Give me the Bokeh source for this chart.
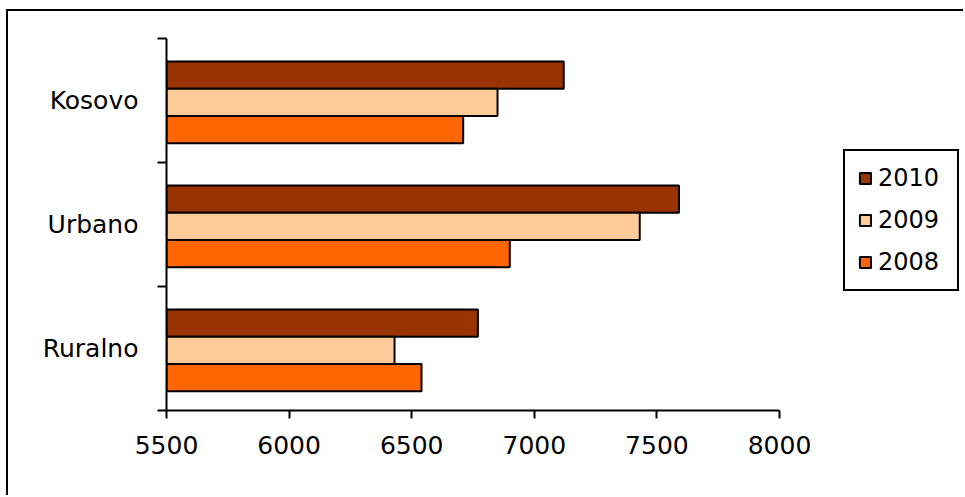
from bokeh.plotting import figure
from bokeh.models import ColumnDataSource, Range1d, FixedTicker, Legend, LegendItem
from bokeh.transform import dodge
from bokeh.embed import file_html
from bokeh.resources import INLINE

categories = ["Kosovo", "Urbano", "Ruralno"]
years = ["2010", "2009", "2008"]
v2010 = [7120, 7590, 6770]
v2009 = [6850, 7430, 6430]
v2008 = [6710, 6900, 6540]
x_ticks = [5500, 6000, 6500, 7000, 7500, 8000]
colors = ["#993300", "#FFCC99", "#FF6600"]

n = len(categories)
ypos = [n - 1 - i + 0.5 for i in range(n)]
src = ColumnDataSource(dict(cat=categories, y=ypos, v2010=v2010, v2009=v2009, v2008=v2008))

FONT = "DejaVu Sans"

# layout (pixels)
W, H = 957, 486
LEFT, TOP = 158, 27
AXIS_PX = 613          # pixel length of the 5500..8000 axis
FRAME_PX = W - LEFT    # frame runs to the right edge so the legend fits inside
FRAME_H = 372
x_end = x_ticks[0] + (x_ticks[-1] - x_ticks[0]) * FRAME_PX / AXIS_PX

p = figure(width=W, height=H, output_backend="svg", toolbar_location=None,
           x_range=Range1d(x_ticks[0], x_end), y_range=Range1d(0, n),
           min_border_left=LEFT, min_border_right=0, min_border_top=TOP,
           min_border_bottom=H - TOP - FRAME_H)
p.styles = {"border-top": "2px solid black", "border-left": "2px solid black",
            "margin-left": "6px", "margin-top": "9px"}
p.outline_line_color = None
p.xgrid.visible = False
p.ygrid.visible = False
p.background_fill_color = "white"
p.border_fill_color = "white"

bh = 0.22
offsets = [bh, 0.0, -bh]
cols = ["v2010", "v2009", "v2008"]
renderers = []
for col, off, c in zip(cols, offsets, colors):
    r = p.hbar(y=dodge("y", off - 0.015), left=x_ticks[0], right=col, height=bh, source=src,
               fill_color=c, line_color="black", line_width=2)
    renderers.append(r)

xa = p.xaxis[0]
xa.ticker = FixedTicker(ticks=x_ticks)
xa.bounds = (x_ticks[0], x_ticks[-1])
xa.major_tick_out = 8
xa.major_tick_in = 0
xa.minor_tick_out = 0
xa.axis_line_width = 2
xa.major_tick_line_width = 2
xa.major_label_text_font = FONT
xa.major_label_text_font_size = "25px"
xa.major_label_text_color = "black"
xa.major_label_standoff = 17

ya = p.yaxis[0]
ya.ticker = FixedTicker(ticks=ypos, minor_ticks=[float(k) for k in range(n + 1)])
ya.major_label_overrides = {y: c for y, c in zip(ypos, categories)}
ya.major_tick_out = 0
ya.major_tick_in = 0
ya.minor_tick_out = 9
ya.minor_tick_in = 0
ya.minor_tick_line_width = 2
ya.axis_line_width = 2
ya.major_label_text_font = FONT
ya.major_label_text_font_size = "25px"
ya.major_label_text_color = "black"
ya.major_label_standoff = 19

legend = Legend(items=[LegendItem(label=yr, renderers=[r]) for yr, r in zip(years, renderers)],
                location=(677, 119))
legend.label_text_font = FONT
legend.label_text_font_size = "24px"
legend.label_text_color = "black"
legend.glyph_width = 14
legend.glyph_height = 14
legend.label_height = 25
legend.label_width = 66
legend.label_standoff = 6
legend.spacing = 14
legend.padding = 13
legend.margin = 0
legend.border_line_color = "black"
legend.border_line_alpha = 1.0
legend.border_line_width = 2
legend.background_fill_alpha = 1
p.add_layout(legend, "center")

open("out.html", "w").write(file_html(p, INLINE))
